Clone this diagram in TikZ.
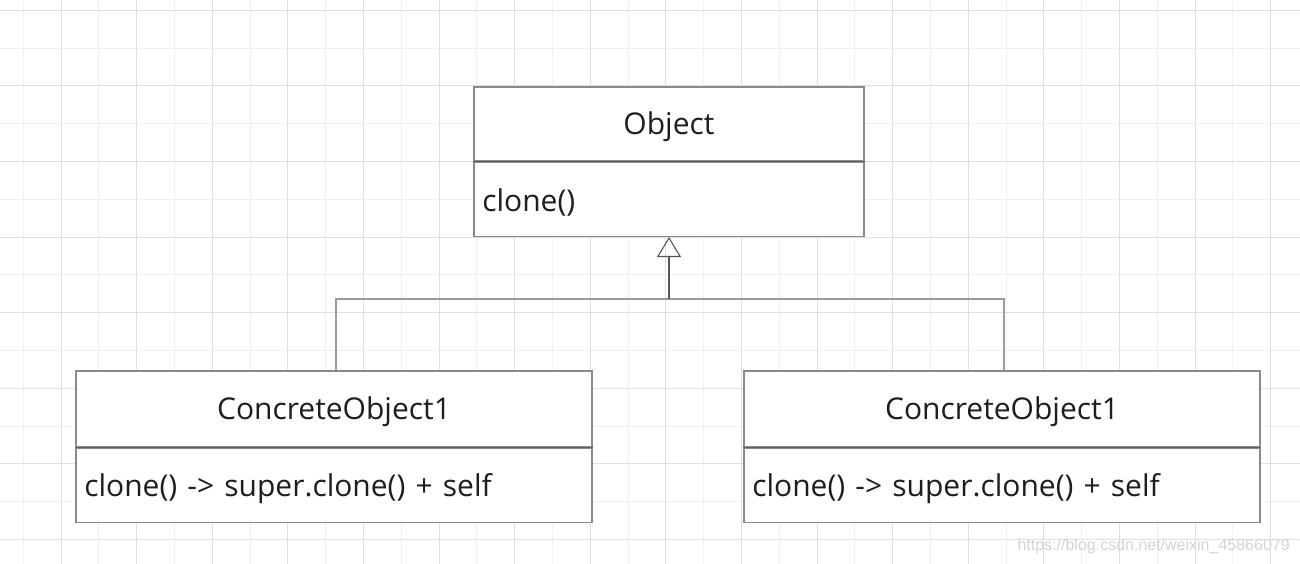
\documentclass[tikz,border=0pt]{standalone}
\usepackage{fontspec}
\setmainfont{Open Sans}
\newfontfamily\wmfont{Liberation Sans}
\newfontfamily\bodyfont[WordSpace=1.3]{Open Sans}
\usetikzlibrary{arrows.meta,calc}
\definecolor{gmaj}{HTML}{DFDFDF}
\definecolor{gmin}{HTML}{EFEFEF}
\definecolor{bordercol}{HTML}{8A8A8A}
\definecolor{dividercol}{HTML}{606060}
\definecolor{txtcol}{HTML}{1E1E1E}
\definecolor{conncol}{HTML}{9A9A9A}
\definecolor{arrowcol}{HTML}{555555}
\definecolor{wmcol}{HTML}{D4D4D4}
\tikzset{
  hdr/.style={draw=bordercol, fill=white, line width=1pt, inner sep=0pt, text=txtcol,
    text height=20pt, text depth=3.7pt,
    font=\fontsize{22.5pt}{27pt}\selectfont},
  bodybox/.style={draw=bordercol, fill=white, line width=1pt, inner sep=0pt},
  bodytext/.style={anchor=west, inner sep=0pt, text=txtcol, yshift=-2.25pt,
    font=\bodyfont\fontsize{22.5pt}{27pt}\selectfont},
  divline/.style={draw=dividercol, line width=1.1pt},
  connline/.style={draw=conncol, line width=1.5pt},
  inherit/.style={draw=arrowcol, line width=1.1pt,
    -{Triangle[open, length=15pt, width=18pt, line width=0.8pt]}},
}
\begin{document}
\begin{tikzpicture}[x=0.75pt, y=-0.75pt]
\fill[white] (0,0) rectangle (1300,564);
\useasboundingbox (0,0) rectangle (1300,564);
% grid
\foreach \k in {0,...,33}{
  \pgfmathsetmacro\xx{23.3+37.8*\k}
  \ifodd\k
    \draw[gmaj, line width=0.8pt] (\xx,0) -- (\xx,564);
  \else
    \draw[gmin, line width=0.8pt] (\xx,0) -- (\xx,564);
  \fi
}
\foreach \k in {0,...,14}{
  \pgfmathsetmacro\yy{10.3+37.8*\k}
  \ifodd\k
    \draw[gmin, line width=0.8pt] (0,\yy) -- (1300,\yy);
  \else
    \draw[gmaj, line width=0.8pt] (0,\yy) -- (1300,\yy);
  \fi
}
% Object class
\node[hdr, minimum width=292.5pt, minimum height=55.5pt] (objH) at (669,124) {Object};
\node[bodybox, minimum width=292.5pt, minimum height=55.5pt, anchor=north] (objB) at (objH.south) {};
\node[bodytext] (objT) at ([xshift=6.5pt]objB.west) {clone()};
\draw[divline] (objH.south west) -- (objH.south east);
% Concrete class 1 (left)
\node[hdr, minimum width=387pt, minimum height=57pt] (c1H) at (334,409) {ConcreteObject1};
\node[bodybox, minimum width=387pt, minimum height=55.5pt, anchor=north] (c1B) at (c1H.south) {};
\node[bodytext] (c1T) at ([xshift=6.5pt]c1B.west) {clone() -> super.clone() + self};
\draw[divline] (c1H.south west) -- (c1H.south east);
% Concrete class 2 (right)
\node[hdr, minimum width=387pt, minimum height=57pt] (c2H) at (1002,409) {ConcreteObject1};
\node[bodybox, minimum width=387pt, minimum height=55.5pt, anchor=north] (c2B) at (c2H.south) {};
\node[bodytext] (c2T) at ([xshift=6.5pt]c2B.west) {clone() -> super.clone() + self};
\draw[divline] (c2H.south west) -- (c2H.south east);
% connectors
\coordinate (j) at (669,299);
\draw[connline] ([xshift=1.5pt]c1H.north) |- (j) -| ([xshift=1.5pt]c2H.north);
\draw[inherit] (j) -- (objB.south);
% watermark
\node[text=wmcol, font=\wmfont\fontsize{12pt}{14pt}\selectfont, anchor=east, inner sep=0pt] (wm) at (1290,546) {https://blog.csdn.net/weixin\_45866079};
\end{tikzpicture}
\end{document}
